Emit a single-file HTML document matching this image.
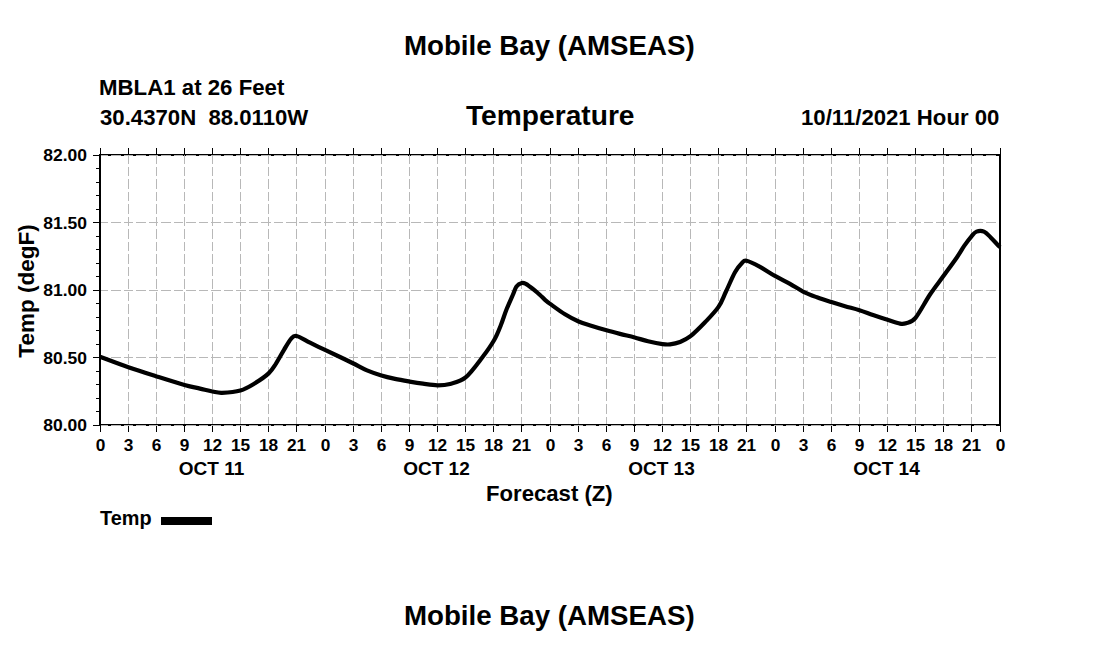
<!DOCTYPE html><html><head><meta charset="utf-8"><style>html,body{margin:0;padding:0;background:#fff;width:1100px;height:650px;overflow:hidden}svg{display:block}text{font-family:"Liberation Sans",sans-serif;font-weight:bold;fill:#000}</style></head><body>
<svg width="1100" height="650" viewBox="0 0 1100 650">
<rect x="99" y="155" width="902" height="1" fill="#000"/><rect x="99" y="425" width="902" height="1" fill="#000"/>
<path d="M128.5,154 V425 M156.5,154 V425 M184.5,154 V425 M212.5,154 V425 M240.5,154 V425 M268.5,154 V425 M296.5,154 V425 M325.5,154 V425 M353.5,154 V425 M381.5,154 V425 M409.5,154 V425 M437.5,154 V425 M465.5,154 V425 M493.5,154 V425 M521.5,154 V425 M550.5,154 V425 M578.5,154 V425 M606.5,154 V425 M634.5,154 V425 M662.5,154 V425 M690.5,154 V425 M718.5,154 V425 M746.5,154 V425 M775.5,154 V425 M803.5,154 V425 M831.5,154 V425 M859.5,154 V425 M887.5,154 V425 M915.5,154 V425 M943.5,154 V425 M971.5,154 V425 M98.5,155.5 H1000 M98.5,222.5 H1000 M98.5,290.5 H1000 M98.5,357.5 H1000 M98.5,425.5 H1000" stroke="#b8b8b8" stroke-width="1" stroke-dasharray="9.5 3" shape-rendering="crispEdges" fill="none"/>
<path d="M100.00,356.80 C104.73,358.55 118.98,364.03 128.40,367.30 C137.82,370.57 147.15,373.45 156.50,376.40 C165.85,379.35 177.25,382.97 184.50,385.00 C191.75,387.03 195.33,387.52 200.00,388.60 C204.67,389.68 208.83,390.80 212.50,391.50 C216.17,392.20 217.35,392.97 222.00,392.80 C226.65,392.63 234.90,392.10 240.40,390.50 C245.90,388.90 250.30,386.05 255.00,383.20 C259.70,380.35 265.10,376.67 268.60,373.40 C272.10,370.13 273.43,367.53 276.00,363.60 C278.57,359.67 281.50,353.93 284.00,349.80 C286.50,345.67 288.92,341.10 291.00,338.80 C293.08,336.50 293.33,335.35 296.50,336.00 C299.67,336.65 305.17,340.33 310.00,342.70 C314.83,345.07 320.50,347.82 325.50,350.20 C330.50,352.58 335.35,354.78 340.00,357.00 C344.65,359.22 348.90,361.27 353.40,363.50 C357.90,365.73 362.33,368.40 367.00,370.40 C371.67,372.40 376.73,374.08 381.40,375.50 C386.07,376.92 390.30,377.88 395.00,378.90 C399.70,379.92 404.93,380.80 409.60,381.60 C414.27,382.40 418.35,383.08 423.00,383.70 C427.65,384.32 433.00,385.27 437.50,385.30 C442.00,385.33 445.32,385.22 450.00,383.90 C454.68,382.58 460.17,381.88 465.60,377.40 C471.03,372.92 477.83,363.23 482.60,357.00 C487.37,350.77 491.15,345.33 494.20,340.00 C497.25,334.67 498.88,330.00 500.90,325.00 C502.92,320.00 504.32,315.00 506.30,310.00 C508.28,305.00 511.10,298.92 512.80,295.00 C514.50,291.08 514.98,288.50 516.50,286.50 C518.02,284.50 520.32,283.42 521.90,283.00 C523.48,282.58 524.65,283.37 526.00,284.00 C527.35,284.63 528.50,285.70 530.00,286.80 C531.50,287.90 533.33,289.23 535.00,290.60 C536.67,291.97 538.33,293.47 540.00,295.00 C541.67,296.53 543.25,298.28 545.00,299.80 C546.75,301.32 547.17,301.68 550.50,304.10 C553.83,306.52 560.32,311.40 565.00,314.30 C569.68,317.20 574.10,319.57 578.60,321.50 C583.10,323.43 587.35,324.43 592.00,325.90 C596.65,327.37 601.83,328.97 606.50,330.30 C611.17,331.63 615.32,332.70 620.00,333.90 C624.68,335.10 629.93,336.28 634.60,337.50 C639.27,338.72 643.35,340.10 648.00,341.20 C652.65,342.30 658.83,343.57 662.50,344.10 C666.17,344.63 667.08,344.75 670.00,344.40 C672.92,344.05 676.58,343.37 680.00,342.00 C683.42,340.63 686.33,339.48 690.50,336.20 C694.67,332.92 700.33,327.18 705.00,322.30 C709.67,317.42 715.00,312.03 718.50,306.90 C722.00,301.77 723.25,297.27 726.00,291.50 C728.75,285.73 732.33,277.03 735.00,272.30 C737.67,267.57 740.08,265.02 742.00,263.10 C743.92,261.18 743.50,260.17 746.50,260.80 C749.50,261.43 755.18,264.33 760.00,266.90 C764.82,269.47 770.40,273.37 775.40,276.20 C780.40,279.03 785.32,281.30 790.00,283.90 C794.68,286.50 799.00,289.57 803.50,291.80 C808.00,294.03 812.35,295.58 817.00,297.30 C821.65,299.02 826.73,300.62 831.40,302.10 C836.07,303.58 840.33,304.85 845.00,306.20 C849.67,307.55 854.73,308.73 859.40,310.20 C864.07,311.67 868.32,313.40 873.00,315.00 C877.68,316.60 883.00,318.37 887.50,319.80 C892.00,321.23 896.92,323.03 900.00,323.60 C903.08,324.17 903.42,324.17 906.00,323.20 C908.58,322.23 911.50,322.58 915.50,317.80 C919.50,313.02 925.32,301.50 930.00,294.50 C934.68,287.50 939.10,282.02 943.60,275.80 C948.10,269.58 953.57,262.18 957.00,257.20 C960.43,252.22 961.78,249.38 964.20,245.90 C966.62,242.42 969.45,238.68 971.50,236.30 C973.55,233.92 974.42,232.38 976.50,231.60 C978.58,230.82 981.63,230.62 984.00,231.60 C986.37,232.58 988.37,235.23 990.70,237.50 C993.03,239.77 996.45,243.57 998.00,245.20 C999.55,246.83 999.67,246.95 1000.00,247.30" fill="none" stroke="#000" stroke-width="4.2" stroke-linejoin="round" stroke-linecap="butt"/>
<g fill="#000" shape-rendering="crispEdges">
<rect x="99" y="154" width="2" height="272"/>
<rect x="999" y="154" width="2" height="272"/>
<rect x="99" y="154" width="902" height="1"/>
<rect x="99" y="424" width="902" height="1"/>
<rect x="100" y="148" width="1" height="6"/>
<rect x="100" y="426" width="1" height="6"/>
<rect x="128" y="148" width="1" height="6"/>
<rect x="128" y="426" width="1" height="6"/>
<rect x="156" y="148" width="1" height="6"/>
<rect x="156" y="426" width="1" height="6"/>
<rect x="184" y="148" width="1" height="6"/>
<rect x="184" y="426" width="1" height="6"/>
<rect x="212" y="148" width="1" height="6"/>
<rect x="212" y="426" width="1" height="6"/>
<rect x="240" y="148" width="1" height="6"/>
<rect x="240" y="426" width="1" height="6"/>
<rect x="268" y="148" width="1" height="6"/>
<rect x="268" y="426" width="1" height="6"/>
<rect x="296" y="148" width="1" height="6"/>
<rect x="296" y="426" width="1" height="6"/>
<rect x="325" y="148" width="1" height="6"/>
<rect x="325" y="426" width="1" height="6"/>
<rect x="353" y="148" width="1" height="6"/>
<rect x="353" y="426" width="1" height="6"/>
<rect x="381" y="148" width="1" height="6"/>
<rect x="381" y="426" width="1" height="6"/>
<rect x="409" y="148" width="1" height="6"/>
<rect x="409" y="426" width="1" height="6"/>
<rect x="437" y="148" width="1" height="6"/>
<rect x="437" y="426" width="1" height="6"/>
<rect x="465" y="148" width="1" height="6"/>
<rect x="465" y="426" width="1" height="6"/>
<rect x="493" y="148" width="1" height="6"/>
<rect x="493" y="426" width="1" height="6"/>
<rect x="521" y="148" width="1" height="6"/>
<rect x="521" y="426" width="1" height="6"/>
<rect x="550" y="148" width="1" height="6"/>
<rect x="550" y="426" width="1" height="6"/>
<rect x="578" y="148" width="1" height="6"/>
<rect x="578" y="426" width="1" height="6"/>
<rect x="606" y="148" width="1" height="6"/>
<rect x="606" y="426" width="1" height="6"/>
<rect x="634" y="148" width="1" height="6"/>
<rect x="634" y="426" width="1" height="6"/>
<rect x="662" y="148" width="1" height="6"/>
<rect x="662" y="426" width="1" height="6"/>
<rect x="690" y="148" width="1" height="6"/>
<rect x="690" y="426" width="1" height="6"/>
<rect x="718" y="148" width="1" height="6"/>
<rect x="718" y="426" width="1" height="6"/>
<rect x="746" y="148" width="1" height="6"/>
<rect x="746" y="426" width="1" height="6"/>
<rect x="775" y="148" width="1" height="6"/>
<rect x="775" y="426" width="1" height="6"/>
<rect x="803" y="148" width="1" height="6"/>
<rect x="803" y="426" width="1" height="6"/>
<rect x="831" y="148" width="1" height="6"/>
<rect x="831" y="426" width="1" height="6"/>
<rect x="859" y="148" width="1" height="6"/>
<rect x="859" y="426" width="1" height="6"/>
<rect x="887" y="148" width="1" height="6"/>
<rect x="887" y="426" width="1" height="6"/>
<rect x="915" y="148" width="1" height="6"/>
<rect x="915" y="426" width="1" height="6"/>
<rect x="943" y="148" width="1" height="6"/>
<rect x="943" y="426" width="1" height="6"/>
<rect x="971" y="148" width="1" height="6"/>
<rect x="971" y="426" width="1" height="6"/>
<rect x="1000" y="148" width="1" height="6"/>
<rect x="1000" y="426" width="1" height="6"/>
<rect x="93" y="425" width="6" height="1"/>
<rect x="96" y="411" width="3" height="1"/>
<rect x="96" y="398" width="3" height="1"/>
<rect x="96" y="384" width="3" height="1"/>
<rect x="96" y="371" width="3" height="1"/>
<rect x="93" y="357" width="6" height="1"/>
<rect x="96" y="344" width="3" height="1"/>
<rect x="96" y="330" width="3" height="1"/>
<rect x="96" y="317" width="3" height="1"/>
<rect x="96" y="303" width="3" height="1"/>
<rect x="93" y="290" width="6" height="1"/>
<rect x="96" y="276" width="3" height="1"/>
<rect x="96" y="263" width="3" height="1"/>
<rect x="96" y="249" width="3" height="1"/>
<rect x="96" y="236" width="3" height="1"/>
<rect x="93" y="222" width="6" height="1"/>
<rect x="96" y="209" width="3" height="1"/>
<rect x="96" y="195" width="3" height="1"/>
<rect x="96" y="182" width="3" height="1"/>
<rect x="96" y="168" width="3" height="1"/>
<rect x="93" y="155" width="6" height="1"/>
</g>
<text transform="translate(403.99,55) scale(1.0070,1)" font-size="27.5" xml:space="preserve">Mobile Bay (AMSEAS)</text>
<text transform="translate(403.99,625) scale(1.0070,1)" font-size="27.5" xml:space="preserve">Mobile Bay (AMSEAS)</text>
<text transform="translate(99.02,95) scale(0.9892,1)" font-size="22.5" xml:space="preserve">MBLA1 at 26 Feet</text>
<text transform="translate(100.01,125) scale(0.9857,1)" font-size="22.5" xml:space="preserve">30.4370N  88.0110W</text>
<text transform="translate(466.00,125) scale(1.0244,1)" font-size="27.5" xml:space="preserve">Temperature</text>
<text transform="translate(801.01,125) scale(0.9850,1)" font-size="22.5" xml:space="preserve">10/11/2021 Hour 00</text>
<text transform="translate(486.03,501) scale(0.9841,1)" font-size="22.5" xml:space="preserve">Forecast (Z)</text>
<text transform="translate(100.00,525) scale(1.0200,1)" font-size="19.5" xml:space="preserve">Temp</text>
<rect x="161" y="517" width="51" height="8" fill="#000"/>
<text transform="translate(87,431) scale(1.06,1)" font-size="16.5" text-anchor="end">80.00</text>
<text transform="translate(87,364) scale(1.06,1)" font-size="16.5" text-anchor="end">80.50</text>
<text transform="translate(87,296) scale(1.06,1)" font-size="16.5" text-anchor="end">81.00</text>
<text transform="translate(87,229) scale(1.06,1)" font-size="16.5" text-anchor="end">81.50</text>
<text transform="translate(87,161) scale(1.06,1)" font-size="16.5" text-anchor="end">82.00</text>
<text transform="translate(34,291) rotate(-90)" font-size="22.5" text-anchor="middle">Temp (degF)</text>
<text transform="translate(100.5,451) scale(1.08,1)" font-size="16" text-anchor="middle">0</text>
<text transform="translate(128.5,451) scale(1.08,1)" font-size="16" text-anchor="middle">3</text>
<text transform="translate(156.5,451) scale(1.08,1)" font-size="16" text-anchor="middle">6</text>
<text transform="translate(184.5,451) scale(1.08,1)" font-size="16" text-anchor="middle">9</text>
<text transform="translate(212.5,451) scale(1.08,1)" font-size="16" text-anchor="middle">12</text>
<text transform="translate(240.5,451) scale(1.08,1)" font-size="16" text-anchor="middle">15</text>
<text transform="translate(268.5,451) scale(1.08,1)" font-size="16" text-anchor="middle">18</text>
<text transform="translate(296.5,451) scale(1.08,1)" font-size="16" text-anchor="middle">21</text>
<text transform="translate(325.5,451) scale(1.08,1)" font-size="16" text-anchor="middle">0</text>
<text transform="translate(353.5,451) scale(1.08,1)" font-size="16" text-anchor="middle">3</text>
<text transform="translate(381.5,451) scale(1.08,1)" font-size="16" text-anchor="middle">6</text>
<text transform="translate(409.5,451) scale(1.08,1)" font-size="16" text-anchor="middle">9</text>
<text transform="translate(437.5,451) scale(1.08,1)" font-size="16" text-anchor="middle">12</text>
<text transform="translate(465.5,451) scale(1.08,1)" font-size="16" text-anchor="middle">15</text>
<text transform="translate(493.5,451) scale(1.08,1)" font-size="16" text-anchor="middle">18</text>
<text transform="translate(521.5,451) scale(1.08,1)" font-size="16" text-anchor="middle">21</text>
<text transform="translate(550.5,451) scale(1.08,1)" font-size="16" text-anchor="middle">0</text>
<text transform="translate(578.5,451) scale(1.08,1)" font-size="16" text-anchor="middle">3</text>
<text transform="translate(606.5,451) scale(1.08,1)" font-size="16" text-anchor="middle">6</text>
<text transform="translate(634.5,451) scale(1.08,1)" font-size="16" text-anchor="middle">9</text>
<text transform="translate(662.5,451) scale(1.08,1)" font-size="16" text-anchor="middle">12</text>
<text transform="translate(690.5,451) scale(1.08,1)" font-size="16" text-anchor="middle">15</text>
<text transform="translate(718.5,451) scale(1.08,1)" font-size="16" text-anchor="middle">18</text>
<text transform="translate(746.5,451) scale(1.08,1)" font-size="16" text-anchor="middle">21</text>
<text transform="translate(775.5,451) scale(1.08,1)" font-size="16" text-anchor="middle">0</text>
<text transform="translate(803.5,451) scale(1.08,1)" font-size="16" text-anchor="middle">3</text>
<text transform="translate(831.5,451) scale(1.08,1)" font-size="16" text-anchor="middle">6</text>
<text transform="translate(859.5,451) scale(1.08,1)" font-size="16" text-anchor="middle">9</text>
<text transform="translate(887.5,451) scale(1.08,1)" font-size="16" text-anchor="middle">12</text>
<text transform="translate(915.5,451) scale(1.08,1)" font-size="16" text-anchor="middle">15</text>
<text transform="translate(943.5,451) scale(1.08,1)" font-size="16" text-anchor="middle">18</text>
<text transform="translate(971.5,451) scale(1.08,1)" font-size="16" text-anchor="middle">21</text>
<text transform="translate(1000.5,451) scale(1.08,1)" font-size="16" text-anchor="middle">0</text>
<text x="211.5" y="475" font-size="19" text-anchor="middle">OCT 11</text>
<text x="436.5" y="475" font-size="19" text-anchor="middle">OCT 12</text>
<text x="661.5" y="475" font-size="19" text-anchor="middle">OCT 13</text>
<text x="886.5" y="475" font-size="19" text-anchor="middle">OCT 14</text>
</svg></body></html>
